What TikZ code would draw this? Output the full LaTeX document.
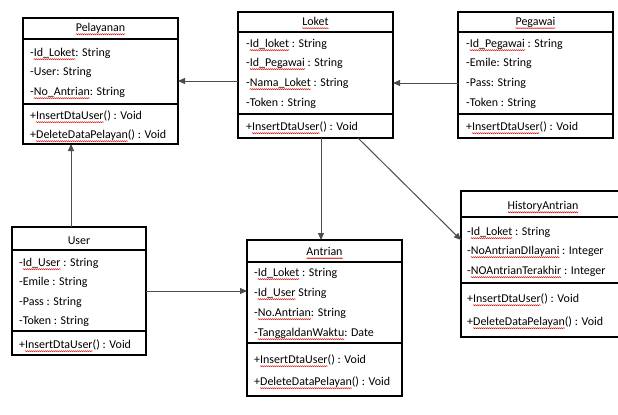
\documentclass[tikz,border=0pt]{standalone}
\usepackage{fontspec}
\setmainfont{Carlito}
\usetikzlibrary{arrows.meta,calc,decorations.pathmorphing}
\newlength\sqw
\newcommand\sq[1]{\settowidth\sqw{#1}\leavevmode\rlap{\tikz[overlay]\draw[red!85!black,line width=0.45bp,decorate,decoration={zigzag,amplitude=0.55bp,segment length=2bp}] (0bp,-3bp) -- (\sqw,-3bp);}#1}
\begin{document}
\begin{tikzpicture}[x=1bp,y=-1bp,
  box/.style={draw=black,line width=1.6bp,inner sep=0pt,outer sep=0pt,anchor=north west},
  sep/.style={line width=1.6bp},
  txt/.style={anchor=west,inner sep=0pt,font=\fontsize{12}{14}\selectfont,text height=8.6bp,text depth=2.2bp},
  ttl/.style={anchor=center,inner sep=0pt,font=\fontsize{12}{14}\selectfont,text height=8.6bp,text depth=2.2bp},
  conn/.style={draw=black!70,line width=1bp,-{Triangle[length=7bp,width=6bp]}}]
\useasboundingbox (0,0) rectangle (618,414);
\fill[white] (0,0) rectangle (618,414);

% ---------- Pelayanan ----------
\node[box,minimum width=155bp,minimum height=126bp] (pel) at (23,18) {};
\draw[sep] (pel.west |- 0,39) -- (pel.east |- 0,39);
\draw[sep] (pel.west |- 0,104) -- (pel.east |- 0,104);
\node[ttl] (pelT) at (100.5,28) {\sq{Pelayanan}};
\node[txt] (pel1) at (30,53) {-\sq{Id\_Loket}: String};
\node[txt] (pel2) at (30,72) {-User: String};
\node[txt] (pel3) at (30,92) {-\sq{No\_Antrian}: String};
\node[txt] (pel4) at (30,116) {+\sq{InsertDtaUser}() : Void};
\node[txt] (pel5) at (30,135) {+\sq{DeleteDataPelayan}() : Void};

% ---------- Loket ----------
\node[box,minimum width=155bp,minimum height=126bp] (loket) at (238,12) {};
\draw[sep] (loket.west |- 0,32) -- (loket.east |- 0,32);
\draw[sep] (loket.west |- 0,114) -- (loket.east |- 0,114);
\node[ttl] (lokT) at (315.5,22) {\sq{Loket}};
\node[txt] (lok1) at (246,44) {-\sq{Id\_loket} : String};
\node[txt] (lok2) at (246,63) {-\sq{Id\_Pegawai} : String};
\node[txt] (lok3) at (246,83) {-\sq{Nama\_Loket} : String};
\node[txt] (lok4) at (246,103) {-Token : String};
\node[txt] (lok5) at (246,127) {+\sq{InsertDtaUser}() : Void};

% ---------- Pegawai ----------
\node[box,minimum width=155bp,minimum height=126bp] (peg) at (458,12) {};
\draw[sep] (peg.west |- 0,32) -- (peg.east |- 0,32);
\draw[sep] (peg.west |- 0,114) -- (peg.east |- 0,114);
\node[ttl] (pegT) at (535.5,22) {\sq{Pegawai}};
\node[txt] (peg1) at (466,44) {-\sq{Id\_Pegawai} : String};
\node[txt] (peg2) at (466,63) {-Emile: String};
\node[txt] (peg3) at (466,83) {-Pass: String};
\node[txt] (peg4) at (466,103) {-Token : String};
\node[txt] (peg5) at (466,127) {+\sq{InsertDtaUser}() : Void};

% ---------- User ----------
\node[box,minimum width=134bp,minimum height=128bp] (user) at (12,227) {};
\draw[sep] (user.west |- 0,250) -- (user.east |- 0,250);
\draw[sep] (user.west |- 0,331) -- (user.east |- 0,331);
\node[ttl] (useT) at (79,241) {User};
\node[txt] (use1) at (19,263) {-\sq{Id\_User} : String};
\node[txt] (use2) at (19,282) {-Emile : String};
\node[txt] (use3) at (19,302) {-Pass : String};
\node[txt] (use4) at (19,321) {-Token : String};
\node[txt] (use5) at (19,345) {+\sq{InsertDtaUser}() : Void};

% ---------- Antrian ----------
\node[box,minimum width=155bp,minimum height=156bp] (antr) at (247,240) {};
\draw[sep] (antr.west |- 0,262) -- (antr.east |- 0,262);
\draw[sep] (antr.west |- 0,343) -- (antr.east |- 0,343);
\node[ttl] (antT) at (324.5,252) {\sq{Antrian}};
\node[txt] (ant1) at (254,273) {-\sq{Id\_Loket} : String};
\node[txt] (ant2) at (254,293) {-\sq{Id\_User} String};
\node[txt] (ant3) at (254,313) {-\sq{No.Antrian}: String};
\node[txt] (ant4) at (254,333) {-\sq{TanggaldanWaktu}: Date};
\node[txt] (ant5) at (254,360) {+\sq{InsertDtaUser}() : Void};
\node[txt] (ant6) at (254,382) {+\sq{DeleteDataPelayan}() : Void};

% ---------- HistoryAntrian ----------
\node[box,minimum width=165bp,minimum height=146bp] (hist) at (461,191) {};
\draw[sep] (hist.west |- 0,217) -- (hist.east |- 0,217);
\draw[sep] (hist.west |- 0,283) -- (hist.east |- 0,283);
\node[ttl] (hisT) at (543,206) {\sq{HistoryAntrian}};
\node[txt] (his1) at (467,232) {-\sq{Id\_Loket} : String};
\node[txt] (his2) at (467,251) {-\sq{NoAntrianDIlayani} : Integer};
\node[txt] (his3) at (467,271) {-\sq{NOAntrianTerakhir} : Integer};
\node[txt] (his4) at (467,299) {+\sq{InsertDtaUser}() : Void};
\node[txt] (his5) at (467,322) {+\sq{DeleteDataPelayan}() : Void};

% ---------- connectors ----------
\draw[conn] (loket.west |- pel.east) -- (pel.east);
\draw[conn] ([yshift=-8bp]peg.west) -- ([yshift=-8bp]loket.east);
\draw[conn] ([xshift=-8bp]user.north) -- ([xshift=-8bp]user.north |- pel.south);
\draw[conn] (user.east) -- (user.east -| antr.west);
\draw[conn] ([xshift=5.5bp]loket.south) -- ([xshift=5.5bp]loket.south |- antr.north);
\draw[conn] ([xshift=42.5bp]loket.south) -- ($(hist.north west)+(0,49)$);
\end{tikzpicture}
\end{document}
